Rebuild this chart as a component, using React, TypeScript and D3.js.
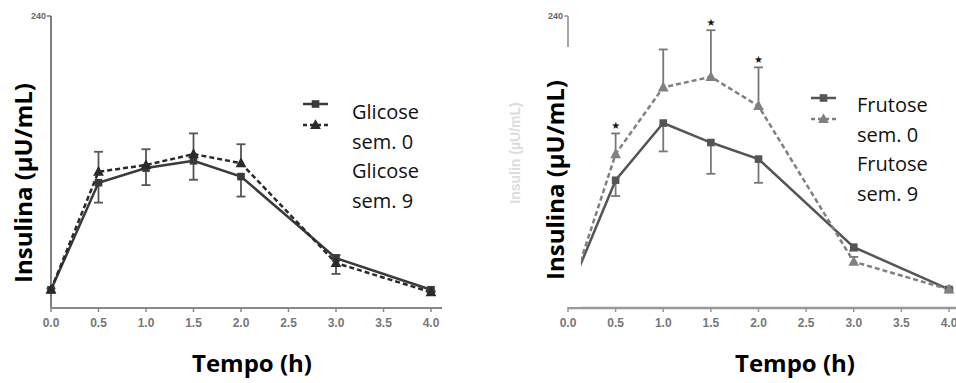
import React from "react";
import * as d3 from "d3";

const times = [0, 0.5, 1, 1.5, 2, 3, 4];
const xTickValues = [0, 0.5, 1, 1.5, 2, 2.5, 3, 3.5, 4];
const yTopLabel = "240";

const glicoseSem0 = [15, 103, 115, 121, 108, 41, 15];
const glicoseSem0Err = [2, 16.4, 14, 15.6, 16.4, 13, 2];
const glicoseSem9 = [15, 112, 117.5, 126.5, 119, 37, 13];
const glicoseSem9Err = [1, 16.4, 13, 17, 15.6, 6.5, 1];

const frutoseSem0 = [11, 105, 152, 136, 122.4, 50, 15.3];
const frutoseSem0Err = [0, 13, 23.3, 25.7, 19.5, 3, 1];
const frutoseSem9 = [7, 126.5, 181.3, 190, 166, 38, 15.3];
const frutoseSem9Err = [0, 17, 31.2, 38.3, 31.8, 4, 1];
const frutoseStars = [0.5, 1.5, 2];

const legendGlicose = ["Glicose", "sem. 0", "Glicose", "sem. 9"];
const legendFrutose = ["Frutose", "sem. 0", "Frutose", "sem. 9"];

type PanelProps = {
  x0: number;
  xEnd: number;
  axisEnd: number;
  sem0: number[];
  sem0Err: number[];
  sem9: number[];
  sem9Err: number[];
  stars: number[];
  legend: string[];
  legendX: number;
  legendY: number;
  textX: number;
  textY: number;
  c0: string;
  c9: string;
  errColor: string;
  yAxisColor: string;
  xAxisColor: string;
  xAxisWidth: number;
  clipLeft: number;
};

const yTop = 16;
const yBottom = 308;

function triangle(cx: number, cy: number, s: number) {
  return `M${cx},${cy - s * 0.65}L${cx + s * 0.6},${cy + s * 0.45}L${cx - s * 0.6},${cy + s * 0.45}Z`;
}

function Panel(p: PanelProps) {
  const x = d3.scaleLinear().domain([0, 4]).range([p.x0, p.xEnd]);
  const y = d3.scaleLinear().domain([0, 240]).range([yBottom, yTop]);
  const line = d3
    .line<number>()
    .x((_, i) => x(times[i]))
    .y((d) => y(d));
  const cap = 4.5;
  return (
    <g>
      <line x1={p.x0} x2={p.x0} y1={yTop} y2={yBottom} stroke={p.yAxisColor} strokeWidth={1.5} />
      <line x1={p.x0 - 4} x2={p.x0} y1={yTop} y2={yTop} stroke={p.yAxisColor} strokeWidth={1.2} />
      <text x={p.x0 - 5} y={yTop + 3} textAnchor="end" fontFamily="Liberation Sans" fontWeight="bold" fontSize={9} fill="#666">
        {yTopLabel}
      </text>
      <line x1={p.x0} x2={p.axisEnd} y1={yBottom} y2={yBottom} stroke={p.xAxisColor} strokeWidth={p.xAxisWidth} />
      {xTickValues.map((t) => (
        <g key={t}>
          <line x1={x(t)} x2={x(t)} y1={yBottom} y2={yBottom + 4} stroke={p.xAxisColor} strokeWidth={1.5} />
          <text x={x(t)} y={yBottom + 19} textAnchor="middle" fontFamily="Liberation Sans" fontWeight="bold" fontSize={12} fill="#777">
            {d3.format(".1f")(t)}
          </text>
        </g>
      ))}
      {times.map((t, i) => (
        <g key={"e" + i} stroke={p.errColor} strokeWidth={1.8}>
          <line x1={x(t)} x2={x(t)} y1={y(p.sem9[i])} y2={y(p.sem9[i] + p.sem9Err[i])} />
          <line x1={x(t) - cap} x2={x(t) + cap} y1={y(p.sem9[i] + p.sem9Err[i])} y2={y(p.sem9[i] + p.sem9Err[i])} />
          <line x1={x(t)} x2={x(t)} y1={y(p.sem0[i])} y2={y(p.sem0[i] - p.sem0Err[i])} />
          <line x1={x(t) - cap} x2={x(t) + cap} y1={y(p.sem0[i] - p.sem0Err[i])} y2={y(p.sem0[i] - p.sem0Err[i])} />
        </g>
      ))}
      <path d={line(p.sem0) || ""} fill="none" stroke={p.c0} strokeWidth={2.5} />
      <path d={line(p.sem9) || ""} fill="none" stroke={p.c9} strokeWidth={2.5} strokeDasharray="5,3" />
      {times.map((t, i) => (
        <rect key={"s" + i} x={x(t) - 3.8} y={y(p.sem0[i]) - 3.8} width={7.6} height={7.6} fill={p.c0} />
      ))}
      {times.map((t, i) => (
        <path key={"t" + i} d={triangle(x(t), y(p.sem9[i]), 9)} fill={p.c9} />
      ))}
      {p.stars.map((t) => {
        const i = times.indexOf(t);
        return (
          <text key={"st" + t} x={x(t)} y={y(p.sem9[i] + p.sem9Err[i]) - 4} textAnchor="middle" fontFamily="DejaVu Sans" fontSize={10} fill="#111">
            ★
          </text>
        );
      })}
      {p.clipLeft > 0 && <rect x={p.clipLeft} y={47} width={p.x0 + 13 - p.clipLeft} height={yBottom - 1 - 47} fill="#fff" />}
      <line x1={p.legendX} x2={p.legendX + 25} y1={p.legendY} y2={p.legendY} stroke={p.c0} strokeWidth={2.5} />
      <rect x={p.legendX + 12.5 - 3.8} y={p.legendY - 3.8} width={7.6} height={7.6} fill={p.c0} />
      <line x1={p.legendX} x2={p.legendX + 25} y1={p.legendY + 21} y2={p.legendY + 21} stroke={p.c9} strokeWidth={2.5} strokeDasharray="4,3" />
      <path d={triangle(p.legendX + 12.5, p.legendY + 21, 9)} fill={p.c9} />
      {p.legend.map((s, i) => (
        <text key={"l" + i} x={p.textX} y={p.textY + i * 29.5} fontFamily="Open Sans" fontSize={20} fill="#111">
          {s}
        </text>
      ))}
    </g>
  );
}

export default function App() {
  return (
    <svg width={956} height={383} style={{ position: "absolute", left: 0, top: 0, background: "#fff" }}>
      <rect width={956} height={383} fill="#fff" />
      <Panel
        x0={51}
        xEnd={431}
        axisEnd={442}
        sem0={glicoseSem0}
        sem0Err={glicoseSem0Err}
        sem9={glicoseSem9}
        sem9Err={glicoseSem9Err}
        stars={[]}
        legend={legendGlicose}
        legendX={303}
        legendY={104}
        textX={352}
        textY={119}
        c0="#3a3a3a"
        c9="#2a2a2a"
        errColor="#555"
        yAxisColor="#555"
        xAxisColor="#888"
        xAxisWidth={2}
        clipLeft={0}
      />
      <text transform="translate(520,153) rotate(-90)" textAnchor="middle" fontFamily="Liberation Sans" fontWeight="bold" fontSize={14} fill="#dcdcdc">
        Insulin (µU/mL)
      </text>
      <Panel
        x0={568}
        xEnd={949}
        axisEnd={960}
        sem0={frutoseSem0}
        sem0Err={frutoseSem0Err}
        sem9={frutoseSem9}
        sem9Err={frutoseSem9Err}
        stars={frutoseStars}
        legend={legendFrutose}
        legendX={811}
        legendY={98}
        textX={857}
        textY={112}
        c0="#555"
        c9="#808080"
        errColor="#777"
        yAxisColor="#888"
        xAxisColor="#999"
        xAxisWidth={2.5}
        clipLeft={526}
      />
      <text transform="translate(32,183) rotate(-90)" textAnchor="middle" fontFamily="Open Sans" fontWeight="bold" fontSize={24} fill="#000">
        Insulina (µU/mL)
      </text>
      <text transform="translate(564,180) rotate(-90)" textAnchor="middle" fontFamily="Open Sans" fontWeight="bold" fontSize={24} fill="#000">
        Insulina (µU/mL)
      </text>
      <text x={252} y={372} textAnchor="middle" fontFamily="Open Sans" fontWeight="bold" fontSize={24} fill="#000">
        Tempo (h)
      </text>
      <text x={795} y={372} textAnchor="middle" fontFamily="Open Sans" fontWeight="bold" fontSize={24} fill="#000">
        Tempo (h)
      </text>
    </svg>
  );
}
